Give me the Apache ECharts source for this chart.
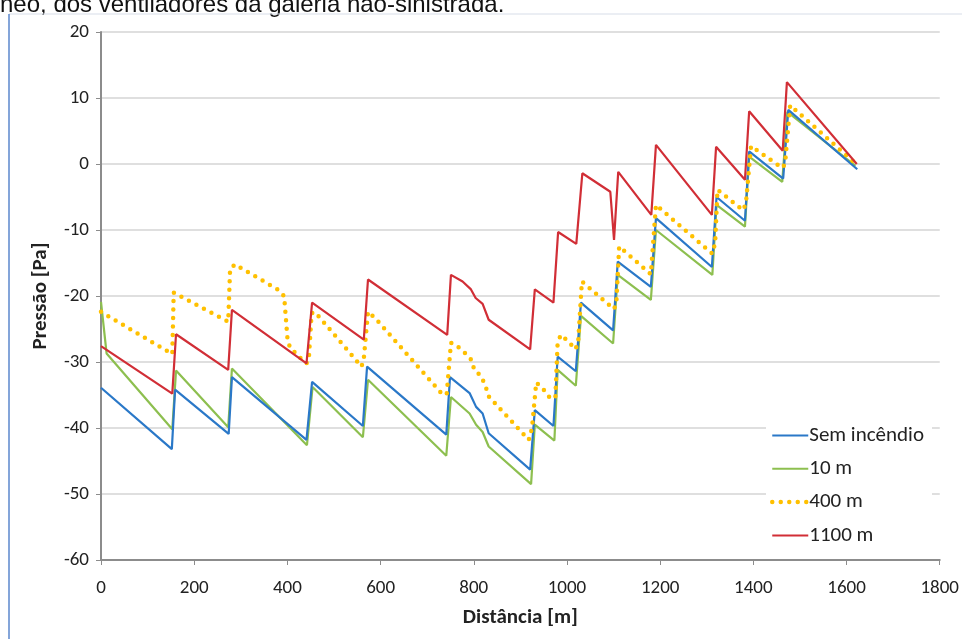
<!DOCTYPE html>
<html><head><meta charset="utf-8">
<script src="https://cdn.jsdelivr.net/npm/echarts@6/dist/echarts.min.js"></script>
<style>html,body{margin:0;padding:0;background:#fff}#c{width:962px;height:639px}</style>
</head><body><div id="c"></div>
<script>
// Distância [m] / Pressão [Pa]
const semX = [0,152,159,274,281,441,453,562,571,741,749,791,805,819,832,921,931,971,980,1019,1030,1099,1109,1180,1191,1311,1321,1382,1391,1464,1475,1623];
const semY = [-33.9,-43.2,-34.2,-40.9,-32.3,-41.8,-33,-39.7,-30.7,-41,-32.3,-34.7,-36.8,-37.8,-40.8,-46.3,-37.3,-39.7,-29.2,-31.4,-21.0,-25.2,-14.8,-18.6,-8.2,-15.6,-5.0,-8.6,1.9,-2.2,8.2,-0.8];

const m10X = [0,12,153,161,273,281,442,454,562,573,741,751,791,805,819,832,923,931,973,980,1019,1030,1099,1109,1180,1191,1312,1321,1382,1391,1462,1473,1619];
const m10Y = [-20.9,-28.7,-40.2,-31.3,-39.9,-31.0,-42.6,-33.8,-41.4,-32.7,-44.2,-35.3,-37.8,-39.5,-40.6,-42.8,-48.5,-39.5,-41.9,-31.2,-33.6,-23.0,-27.2,-16.8,-20.6,-10.0,-16.8,-6.2,-9.5,1.1,-2.7,7.9,-0.3];

const m400X = [0,153,156,273,277,287,379,393,400,405,423,441,446,452,459,559,564,573,589,734,742,751,761,778,794,801,816,825,832,918,925,934,948,962,975,980,987,1003,1018,1024,1032,1101,1106,1112,1180,1191,1312,1318,1323,1378,1384,1395,1462,1468,1479,1619];
const m400Y = [-22.4,-28.8,-19.5,-23.9,-16,-15.2,-19,-20,-26.3,-27.7,-29.1,-30.2,-29.5,-22.6,-22.4,-30.7,-29.5,-22.4,-23.4,-35.0,-34.8,-27.1,-27.4,-28.4,-29.6,-31.1,-32.2,-33.6,-35.2,-41.8,-40,-33.1,-34,-35.3,-35.5,-27,-25.9,-26.9,-28.1,-27,-17.8,-22.0,-21,-12.5,-16.7,-6.2,-13.6,-12,-3.9,-7.0,-6,2.7,-0.6,0,8.9,0.1];

const m1100X = [0,153,161,273,281,441,453,564,573,743,751,776,794,804,819,832,921,931,971,981,1020,1033,1093,1101,1110,1181,1191,1311,1320,1382,1391,1463,1472,1622];
const m1100Y = [-27.6,-34.8,-25.8,-31.2,-22.1,-30.2,-21.0,-26.6,-17.5,-25.9,-16.8,-17.8,-19.0,-20.3,-21.2,-23.6,-28.1,-19.0,-21.0,-10.3,-12.1,-1.4,-4.2,-11.5,-1.2,-7.7,2.9,-7.7,2.6,-2.4,8.0,2.0,12.4,0.0];

const seriesNames = ['Sem incêndio','10 m','400 m','1100 m'];
const caption = 'neo, dos ventiladores da galeria não-sinistrada.';

const pair = (xs, ys) => xs.map((x, i) => [x, ys[i]]);
const FONT = "Carlito, 'Liberation Sans Narrow', 'Open Sans', sans-serif";

const chart = echarts.init(document.getElementById('c'), null, {renderer: 'canvas'});
chart.setOption({
  backgroundColor: '#ffffff',
  animation: false,
  grid: {left: 101, right: 21, top: 32, bottom: 79, containLabel: false},
  xAxis: {
    type: 'value', min: 0, max: 1800, interval: 200,
    name: 'Distância [m]', nameLocation: 'middle', nameGap: 47,
    nameTextStyle: {fontFamily: FONT, fontSize: 21, fontWeight: 'bold', color: '#222'},
    axisLine: {onZero: false, lineStyle: {color: '#8c8c8c', width: 2}},
    axisTick: {show: true, length: 5, lineStyle: {color: '#8c8c8c'}},
    axisLabel: {fontFamily: FONT, fontSize: 19, color: '#222', margin: 19, formatter: v => String(v)},
    splitLine: {show: false}
  },
  yAxis: {
    type: 'value', min: -60, max: 20, interval: 10,
    name: 'Pressão [Pa]', nameLocation: 'middle', nameGap: 50,
    nameTextStyle: {fontFamily: FONT, fontSize: 21, fontWeight: 'bold', color: '#222'},
    axisLine: {show: true, onZero: false, lineStyle: {color: '#8c8c8c', width: 2}},
    axisTick: {show: true, length: 5, lineStyle: {color: '#8c8c8c'}},
    axisLabel: {fontFamily: FONT, fontSize: 19, color: '#222', margin: 12, formatter: v => String(v)},
    splitLine: {show: true, lineStyle: {color: '#d4d4d4', width: 1.5}}
  },
  legend: {
    orient: 'vertical', left: 766, top: 419, width: 165,
    backgroundColor: '#ffffff', padding: [6, 8, 8, 4],
    itemWidth: 36, itemHeight: 14, itemGap: 12.3,
    itemStyle: {opacity: 0},
    textStyle: {fontFamily: FONT, fontSize: 21, color: '#222', padding: [0,0,0,-4]},
    data: [
      {name: seriesNames[0]},
      {name: seriesNames[1]},
      {name: seriesNames[2], lineStyle: {width: 4.5, type: [0, 8.5], cap: 'round', color: '#ffc000'}},
      {name: seriesNames[3]}
    ]
  },
  graphic: [
    {type: 'text', left: 0, top: -7, style: {text: caption, font: "24px 'Liberation Sans', Arial, sans-serif", fill: '#111'}},
    {type: 'line', shape: {x1: 9, y1: 14, x2: 962, y2: 14}, style: {stroke: '#d7dde8', lineWidth: 1}},
    {type: 'line', shape: {x1: 9, y1: 14, x2: 9, y2: 639}, style: {stroke: '#5b87cc', lineWidth: 1.5}}
  ],
  series: [
    {name: seriesNames[0], type: 'line', data: pair(semX, semY), showSymbol: false, symbol: 'none',
     lineStyle: {color: '#2a78c8', width: 2.2}, itemStyle: {color: '#2a78c8'}, z: 3},
    {name: seriesNames[1], type: 'line', data: pair(m10X, m10Y), showSymbol: false, symbol: 'none',
     lineStyle: {color: '#8dbf4f', width: 2.2}, itemStyle: {color: '#8dbf4f'}, z: 2},
    {name: seriesNames[2], type: 'line', data: pair(m400X, m400Y), showSymbol: false, symbol: 'none',
     lineStyle: {color: '#ffc000', width: 4.5, type: [0, 8.5], cap: 'round'}, itemStyle: {color: '#ffc000'}, z: 4},
    {name: seriesNames[3], type: 'line', data: pair(m1100X, m1100Y), showSymbol: false, symbol: 'none',
     lineStyle: {color: '#d12e36', width: 2.2}, itemStyle: {color: '#d12e36'}, z: 5}
  ]
});
</script>
</body></html>
